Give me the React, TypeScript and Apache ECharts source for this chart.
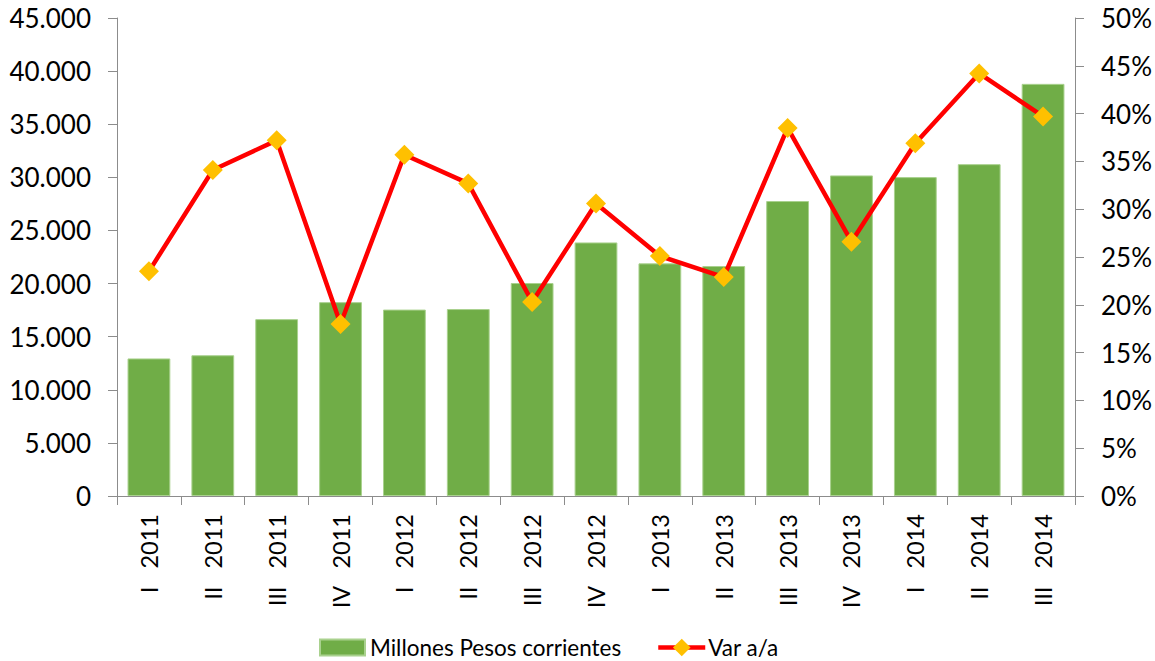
import React, { useEffect, useRef } from "react";
import * as echarts from "echarts";

const categories = [
  "I 2011", "II 2011", "III 2011", "IV 2011",
  "I 2012", "II 2012", "III 2012", "IV 2012",
  "I 2013", "II 2013", "III 2013", "IV 2013",
  "I 2014", "II 2014", "III 2014",
];

const millonesPesos = [
  12950, 13250, 16650, 18250,
  17550, 17600, 20050, 23870,
  21900, 21650, 27770, 30180,
  30020, 31240, 38800,
];

const varAA = [
  23.5, 34.1, 37.2, 18.0,
  35.7, 32.7, 20.3, 30.6,
  25.1, 22.9, 38.5, 26.6,
  36.9, 44.2, 39.7,
];

const FONT = "Lato";
const AXIS_COLOR = "#8C8C8C";

function fmtThousands(v: number): string {
  const s = Math.round(v).toString();
  return s.replace(/\B(?=(\d{3})+(?!\d))/g, ".");
}

export default function App() {
  const ref = useRef<HTMLDivElement>(null);
  useEffect(() => {
    if (!ref.current) return;
    const chart = echarts.init(ref.current, undefined, { renderer: "svg" });
    chart.setOption({
      animation: false,
      backgroundColor: "#FFFFFF",
      textStyle: { fontFamily: FONT },
      grid: { left: 117, right: 78, top: 18, bottom: 165, containLabel: false },
      legend: [
        {
          left: 314,
          top: 631,
          itemWidth: 45,
          itemHeight: 16,
          itemGap: 0,
          textStyle: { fontFamily: FONT, fontSize: 22.5, color: "#000" },
          data: [{ name: "Millones Pesos corrientes", icon: "rect" }],
        },
        {
          left: 651,
          top: 631,
          itemWidth: 47,
          itemHeight: 22,
          itemGap: 0,
          lineStyle: { width: 4.5, color: "#FF0000" },
          textStyle: { fontFamily: FONT, fontSize: 22.5, color: "#000", padding: [0, 0, 0, -2] },
          data: [{ name: "Var a/a" }],
        },
      ],
      xAxis: {
        type: "category",
        data: categories,
        boundaryGap: true,
        axisLine: { lineStyle: { color: AXIS_COLOR, width: 1 } },
        axisTick: { show: true, length: 9, alignWithLabel: false, lineStyle: { color: AXIS_COLOR } },
        axisLabel: {
          rotate: 90,
          margin: 18,
          fontFamily: FONT,
          fontSize: 23.5,
          color: "#000",
          interval: 0,
          formatter: (v: string) => v.replace(" ", "\u00A0\u00A0\u00A0"),
        },
      },
      yAxis: [
        {
          type: "value",
          min: 0,
          max: 45000,
          interval: 5000,
          position: "left",
          splitLine: { show: false },
          axisLine: { show: true, lineStyle: { color: AXIS_COLOR, width: 1 } },
          axisTick: { show: true, length: 9, lineStyle: { color: AXIS_COLOR } },
          axisLabel: {
            fontFamily: FONT,
            fontSize: 26,
            color: "#000",
            margin: 26,
            formatter: (v: number) => fmtThousands(v),
          },
        },
        {
          type: "value",
          min: 0,
          max: 50,
          interval: 5,
          position: "right",
          splitLine: { show: false },
          axisLine: { show: true, lineStyle: { color: AXIS_COLOR, width: 1 } },
          axisTick: { show: true, length: 9, lineStyle: { color: AXIS_COLOR } },
          axisLabel: {
            fontFamily: FONT,
            fontSize: 26,
            color: "#000",
            margin: 26,
            formatter: (v: number) => `${v}%`,
          },
        },
      ],
      series: [
        {
          name: "Millones Pesos corrientes",
          type: "bar",
          data: millonesPesos,
          barCategoryGap: "33%",
          itemStyle: { color: "#70AD47", borderColor: "#A9D18E", borderWidth: 1 },
        },
        {
          name: "Var a/a",
          type: "line",
          yAxisIndex: 1,
          data: varAA,
          symbol: "diamond",
          symbolSize: 20,
          lineStyle: { color: "#FF0000", width: 4.5 },
          itemStyle: { color: "#FFC000", borderColor: "#FFC000", borderWidth: 0 },
          z: 5,
        },
      ],
    });
    return () => chart.dispose();
  }, []);
  return <div ref={ref} style={{ width: 1155, height: 661, position: "absolute", left: 0, top: 0 }} />;
}
